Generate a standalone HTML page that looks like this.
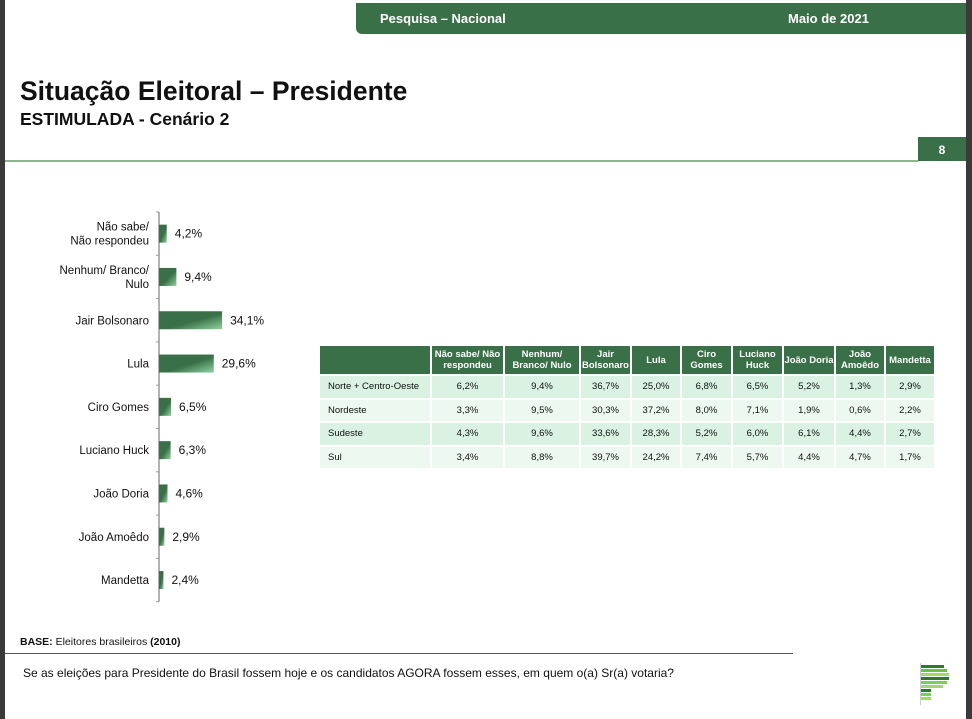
<!DOCTYPE html>
<html><head><meta charset="utf-8"><style>
body{margin:0;width:972px;height:719px;background:#3a3a3a;font-family:"Liberation Sans",sans-serif;overflow:hidden;position:relative}
.page{position:absolute;left:5px;top:0;width:961px;height:719px;background:#fff}
.abs{position:absolute}
table{border-collapse:collapse;font-size:9.5px;table-layout:fixed}
td,th{border:2px solid #fff;text-align:center;padding:0;color:#111}
th{background:#3a7048;color:#fff;font-weight:bold;height:28px;line-height:11px}
td{height:21.5px}
tr.a td{background:#d9f2e2}tr.b td{background:#edf8f1}
td.l{text-align:left;padding-left:8px}
</style></head><body>
<div class="page">
<div class="abs" style="left:351px;top:3px;width:610px;height:31px;background:#3a7048;border-bottom-left-radius:6px;color:#fff;font-weight:bold;font-size:13px">
<span class="abs" style="left:24px;top:8px">Pesquisa – Nacional</span><span class="abs" style="left:432px;top:8px">Maio de 2021</span></div>
<div class="abs" style="left:15px;top:76px;font-size:26.5px;font-weight:bold;color:#111">Situação Eleitoral – Presidente</div>
<div class="abs" style="left:15px;top:109px;font-size:17.5px;font-weight:bold;color:#111">ESTIMULADA - Cenário 2</div>
<div class="abs" style="left:0;top:160px;width:913px;height:2px;background:#8fb58f"></div>
<div class="abs" style="left:913px;top:137px;width:48px;height:24px;background:#3a7048;color:#fff;font-weight:bold;font-size:12px;text-align:center;line-height:26px">8</div>
<svg class="abs" id="chart" style="left:-5px;top:0" width="320" height="620"></svg>
<div class="abs" style="left:313px;top:344px">
<table><colgroup><col style="width:112px"><col style="width:73px"><col style="width:76px"><col style="width:51px"><col style="width:50px"><col style="width:51px"><col style="width:51px"><col style="width:52px"><col style="width:50px"><col style="width:50px"></colgroup>
<tr><th></th><th>Não sabe/ Não respondeu</th><th>Nenhum/ Branco/ Nulo</th><th>Jair Bolsonaro</th><th>Lula</th><th>Ciro Gomes</th><th>Luciano Huck</th><th>João Doria</th><th>João Amoêdo</th><th>Mandetta</th></tr>
<tr class="a"><td class="l">Norte + Centro-Oeste</td><td>6,2%</td><td>9,4%</td><td>36,7%</td><td>25,0%</td><td>6,8%</td><td>6,5%</td><td>5,2%</td><td>1,3%</td><td>2,9%</td></tr>
<tr class="b"><td class="l">Nordeste</td><td>3,3%</td><td>9,5%</td><td>30,3%</td><td>37,2%</td><td>8,0%</td><td>7,1%</td><td>1,9%</td><td>0,6%</td><td>2,2%</td></tr>
<tr class="a"><td class="l">Sudeste</td><td>4,3%</td><td>9,6%</td><td>33,6%</td><td>28,3%</td><td>5,2%</td><td>6,0%</td><td>6,1%</td><td>4,4%</td><td>2,7%</td></tr>
<tr class="b"><td class="l">Sul</td><td>3,4%</td><td>8,8%</td><td>39,7%</td><td>24,2%</td><td>7,4%</td><td>5,7%</td><td>4,4%</td><td>4,7%</td><td>1,7%</td></tr>
</table></div>
<div class="abs" style="left:15px;top:636px;font-size:10.5px;color:#111"><b>BASE:</b> Eleitores brasileiros <b>(2010)</b></div>
<div class="abs" style="left:0;top:653px;width:788px;height:1px;background:#555"></div>
<div class="abs" style="left:18px;top:666px;font-size:12px;color:#111">Se as eleições para Presidente do Brasil fossem hoje e os candidatos AGORA fossem esses, em quem o(a) Sr(a) votaria?</div>
<div class="abs" style="left:915px;top:663px;width:30px;height:42px;border-left:1px solid #ccc">
<div style="height:3px;width:23px;background:#2d7a2d;margin:2px 0 1px"></div><div style="height:3px;width:26px;background:#6cbf4a;margin-bottom:1px"></div><div style="height:3px;width:28px;background:#9fd86b;margin-bottom:1px"></div><div style="height:3px;width:28px;background:#2d7a2d;margin-bottom:1px"></div><div style="height:3px;width:26px;background:#7ccf55;margin-bottom:1px"></div><div style="height:3px;width:22px;background:#9fd86b;margin-bottom:1px"></div><div style="height:3px;width:10px;background:#2d7a2d;margin-bottom:1px"></div><div style="height:3px;width:10px;background:#7ccf55;margin-bottom:1px"></div><div style="height:3px;width:10px;background:#9fd86b"></div></div>
</div>
<script>
const categories=[["Não sabe/","Não respondeu"],["Nenhum/ Branco/","Nulo"],["Jair Bolsonaro"],["Lula"],["Ciro Gomes"],["Luciano Huck"],["João Doria"],["João Amoêdo"],["Mandetta"]];
const values=[4.2,9.4,34.1,29.6,6.5,6.3,4.6,2.9,2.4];
const valueLabels=["4,2%","9,4%","34,1%","29,6%","6,5%","6,3%","4,6%","2,9%","2,4%"];
const svg=document.getElementById('chart');const NS='http://www.w3.org/2000/svg';
const x0=159,pxPer=1.85,yTop=212,band=43.3;
const xs=v=>x0+v*pxPer;const yc=i=>yTop+band*(i+0.5);
function mk(t,a){const e=document.createElementNS(NS,t);for(const k in a)e.setAttribute(k,a[k]);svg.appendChild(e);return e;}
svg.innerHTML='<defs><linearGradient id="g" x1="0" y1="0" x2="1" y2="1"><stop offset="0.55" stop-color="#3a7048"/><stop offset="1" stop-color="#8fd4a0"/></linearGradient></defs>';
const ax=mk('line',{x1:x0,x2:x0,y1:yTop,y2:yTop+band*values.length,stroke:'#999','stroke-width':1.5});


for(let i=0;i<=values.length;i++){const t=mk('line',{x1:x0-3,x2:x0,y1:yTop+band*i,y2:yTop+band*i,stroke:'#999'});

}
values.forEach((v,i)=>{
const r=mk('rect',{x:x0,y:yc(i)-9,width:xs(v)-x0,height:18,fill:'url(#g)'});


const tl=mk('text',{x:xs(v)+8,y:yc(i)+4,'font-size':12,fill:'#111','font-family':'Liberation Sans'});tl.textContent=valueLabels[i];


const lines=categories[i];
lines.forEach((s,j)=>{const c=mk('text',{x:149,y:yc(i)+4+(j-(lines.length-1)/2)*14,'font-size':11.5,fill:'#111','text-anchor':'end','font-family':'Liberation Sans'});c.textContent=s;

});
});
</script>
</body></html>
